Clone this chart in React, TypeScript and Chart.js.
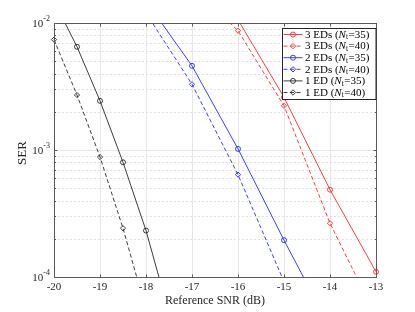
import React, { useEffect, useRef } from "react";
import { Chart, registerables } from "chart.js";

Chart.register(...registerables);

// ---- data ----
const snr1ED35 = [-20, -19.5, -19, -18.5, -18, -17.5];
const ser1ED35 = [1.49e-2, 6.5e-3, 2.44e-3, 8.0e-4, 2.32e-4, 5.2e-5];
const snr1ED40 = [-20, -19.5, -19, -18.5, -18];
const ser1ED40 = [7.4e-3, 2.71e-3, 8.8e-4, 2.42e-4, 5.5e-5];
const snr2ED35 = [-18, -17, -16, -15, -14];
const ser2ED35 = [1.49e-2, 4.6e-3, 1.02e-3, 1.95e-4, 4.0e-5];
const snr2ED40 = [-18, -17, -16, -15];
const ser2ED40 = [1.2e-2, 3.29e-3, 6.4e-4, 9.2e-5];
const snr3ED35 = [-16, -15, -14, -13];
const ser3ED35 = [1.06e-2, 2.6e-3, 4.87e-4, 1.1e-4];
const snr3ED40 = [-17, -16, -15, -14, -13];
const ser3ED40 = [1.95e-2, 8.7e-3, 2.23e-3, 2.65e-4, 4.9e-5];

const xTickValues = [-20, -19, -18, -17, -16, -15, -14, -13];
const yDecadeExponents = [-4, -3, -2];
const xTitle = "Reference SNR (dB)";
const yTitle = "SER";

const legendPrefixes = ["3 EDs", "3 EDs", "2 EDs", "2 EDs", "1 ED", "1 ED"];
const legendNt = ["35", "40", "35", "40", "35", "40"];

const RED = "rgb(255,40,40)";
const BLUE = "rgb(40,40,255)";
const BLACK = "rgb(40,40,40)";
const DASH = [4, 2.5];
const FONT = '"Liberation Serif", "DejaVu Serif", serif';

function series(xs: number[], ys: number[]) {
  return xs.map((x, i) => ({ x, y: ys[i] }));
}

function mkDataset(label: string, xs: number[], ys: number[], color: string, dashed: boolean) {
  return {
    label,
    data: series(xs, ys),
    borderColor: color,
    backgroundColor: color,
    borderWidth: 0.9,
    borderDash: dashed ? DASH : [],
    pointStyle: dashed ? "rectRot" : "circle",
    pointRadius: dashed ? 2.6 : 2.5,
    pointBorderWidth: 0.9,
    pointBorderColor: color,
    pointBackgroundColor: "rgba(0,0,0,0)",
    tension: 0,
    clip: { left: 6, right: 6, top: 0, bottom: 0 },
  };
}

const axesPlugin = {
  id: "matlabAxes",
  beforeDatasetsDraw(chart: any) {
    const { ctx, chartArea: a } = chart;
    const xs = chart.scales.x;
    const ys = chart.scales.y;
    ctx.save();
    ctx.lineWidth = 1;
    ctx.strokeStyle = "#e6e6e6";
    ctx.setLineDash([]);
    xTickValues.forEach((t) => {
      const px = Math.round(xs.getPixelForValue(t)) + 0.5;
      ctx.beginPath();
      ctx.moveTo(px, a.top);
      ctx.lineTo(px, a.bottom);
      ctx.stroke();
    });
    ctx.strokeStyle = "#e2e2e2";
    ctx.setLineDash([2, 2]);
    yDecadeExponents.forEach((d) => {
      for (let m = 2; m <= 9; m++) {
        const v = m * Math.pow(10, d);
        if (v <= ys.min || v >= ys.max) continue;
        const py = Math.round(ys.getPixelForValue(v)) + 0.5;
        ctx.beginPath();
        ctx.moveTo(a.left, py);
        ctx.lineTo(a.right, py);
        ctx.stroke();
      }
    });
    ctx.setLineDash([]);
    ctx.strokeStyle = "#e6e6e6";
    yDecadeExponents.forEach((d) => {
      const py = Math.round(ys.getPixelForValue(Math.pow(10, d))) + 0.5;
      ctx.beginPath();
      ctx.moveTo(a.left, py);
      ctx.lineTo(a.right, py);
      ctx.stroke();
    });
    ctx.restore();
  },
  afterDatasetsDraw(chart: any) {
    const { ctx, chartArea: a } = chart;
    const xs = chart.scales.x;
    const ys = chart.scales.y;
    ctx.save();
    ctx.setLineDash([]);
    ctx.lineWidth = 1;
    ctx.strokeStyle = "#5a5a5a";
    const L = Math.round(a.left) + 0.5;
    const R = Math.round(a.right) + 0.5;
    const T = Math.round(a.top) + 0.5;
    const B = Math.round(a.bottom) + 0.5;
    ctx.strokeRect(L, T, R - L, B - T);
    ctx.beginPath();
    xTickValues.forEach((t) => {
      const px = Math.round(xs.getPixelForValue(t)) + 0.5;
      ctx.moveTo(px, B);
      ctx.lineTo(px, B - 3);
      ctx.moveTo(px, T);
      ctx.lineTo(px, T + 3);
    });
    yDecadeExponents.forEach((d) => {
      for (let m = 1; m <= 9; m++) {
        const v = m * Math.pow(10, d);
        if (v < ys.min * 0.999 || v > ys.max * 1.001) continue;
        const py = Math.round(ys.getPixelForValue(v)) + 0.5;
        const len = m === 1 ? 3 : 1.6;
        ctx.moveTo(L, py);
        ctx.lineTo(L + len, py);
        ctx.moveTo(R, py);
        ctx.lineTo(R - len, py);
      }
    });
    ctx.stroke();

    ctx.fillStyle = "#262626";
    ctx.font = `11px ${FONT}`;
    ctx.textAlign = "center";
    ctx.textBaseline = "middle";
    xTickValues.forEach((t) => {
      const px = xs.getPixelForValue(t);
      ctx.fillText(String(t), px, a.bottom + 10);
    });
    yDecadeExponents.forEach((d) => {
      const py = ys.getPixelForValue(Math.pow(10, d));
      ctx.font = `8px ${FONT}`;
      const sup = String(d);
      const supW = ctx.measureText(sup).width;
      ctx.textAlign = "right";
      ctx.fillText(sup, a.left - 4, py - 4);
      ctx.font = `11px ${FONT}`;
      ctx.fillText("10", a.left - 4 - supW, py + 1);
    });
    ctx.textAlign = "center";
    ctx.font = `12px ${FONT}`;
    ctx.fillStyle = "#262626";
    ctx.fillText(xTitle, (a.left + a.right) / 2, a.bottom + 24);
    ctx.save();
    ctx.translate(a.left - 31, (a.top + a.bottom) / 2 + 3);
    ctx.rotate(-Math.PI / 2);
    ctx.font = `13px ${FONT}`;
    ctx.fillText(yTitle, 0, 0);
    ctx.restore();

    // legend
    const lw = 93.5;
    const lh = 71;
    const lx = Math.round(a.right - 1 - lw) + 0.5;
    const ly = Math.round(a.top + 5) + 0.5;
    ctx.fillStyle = "#ffffff";
    ctx.fillRect(lx, ly, lw, lh);
    ctx.strokeStyle = "#262626";
    ctx.strokeRect(lx, ly, lw, lh);
    const dsets = chart.data.datasets;
    dsets.forEach((ds: any, i: number) => {
      const cy = ly + 6 + i * 11.6;
      ctx.save();
      ctx.strokeStyle = ds.borderColor;
      ctx.lineWidth = 0.9;
      ctx.setLineDash(ds.borderDash || []);
      ctx.beginPath();
      ctx.moveTo(lx + 1, cy);
      ctx.lineTo(lx + 20, cy);
      ctx.stroke();
      ctx.setLineDash([]);
      const mx = lx + 10.5;
      ctx.beginPath();
      if (ds.pointStyle === "circle") {
        ctx.arc(mx, cy, 2.5, 0, Math.PI * 2);
      } else {
        ctx.moveTo(mx, cy - 2.7);
        ctx.lineTo(mx + 2.7, cy);
        ctx.lineTo(mx, cy + 2.7);
        ctx.lineTo(mx - 2.7, cy);
        ctx.closePath();
      }
      ctx.stroke();
      ctx.restore();
      ctx.fillStyle = "#000";
      ctx.textAlign = "left";
      ctx.textBaseline = "middle";
      let tx = lx + 22.5;
      ctx.font = `11px ${FONT}`;
      const p1 = legendPrefixes[i] + " (";
      ctx.fillText(p1, tx, cy + 0.5);
      tx += ctx.measureText(p1).width;
      ctx.font = `italic 11px ${FONT}`;
      ctx.fillText("N", tx, cy + 0.5);
      tx += ctx.measureText("N").width;
      ctx.font = `7.5px ${FONT}`;
      ctx.fillText("t", tx, cy + 3);
      tx += ctx.measureText("t").width + 0.5;
      ctx.font = `11px ${FONT}`;
      ctx.fillText("=" + legendNt[i] + ")", tx, cy + 0.5);
    });
    ctx.restore();
  },
};

export default function App() {
  const ref = useRef<HTMLCanvasElement | null>(null);
  useEffect(() => {
    if (!ref.current) return;
    const chart = new Chart(ref.current, {
      type: "line",
      data: {
        datasets: [
          mkDataset("3 EDs (Nt=35)", snr3ED35, ser3ED35, RED, false),
          mkDataset("3 EDs (Nt=40)", snr3ED40, ser3ED40, RED, true),
          mkDataset("2 EDs (Nt=35)", snr2ED35, ser2ED35, BLUE, false),
          mkDataset("2 EDs (Nt=40)", snr2ED40, ser2ED40, BLUE, true),
          mkDataset("1 ED (Nt=35)", snr1ED35, ser1ED35, BLACK, false),
          mkDataset("1 ED (Nt=40)", snr1ED40, ser1ED40, BLACK, true),
        ] as any,
      },
      options: {
        responsive: false,
        maintainAspectRatio: false,
        animation: false,
        layout: { padding: { left: 54, right: 39, top: 23, bottom: 35 } },
        plugins: { legend: { display: false }, tooltip: { enabled: false } },
        scales: {
          x: { type: "linear", display: false, min: -20, max: -13 },
          y: { type: "logarithmic", display: false, min: 1e-4, max: 1e-2 },
        },
      } as any,
      plugins: [axesPlugin],
    });
    return () => chart.destroy();
  }, []);
  return (
    <div style={{ position: "fixed", left: 0, top: 0, width: 415, height: 312, background: "#fff" }}>
      <canvas ref={ref} width={415} height={312} style={{ display: "block", width: 415, height: 312 }} />
    </div>
  );
}
